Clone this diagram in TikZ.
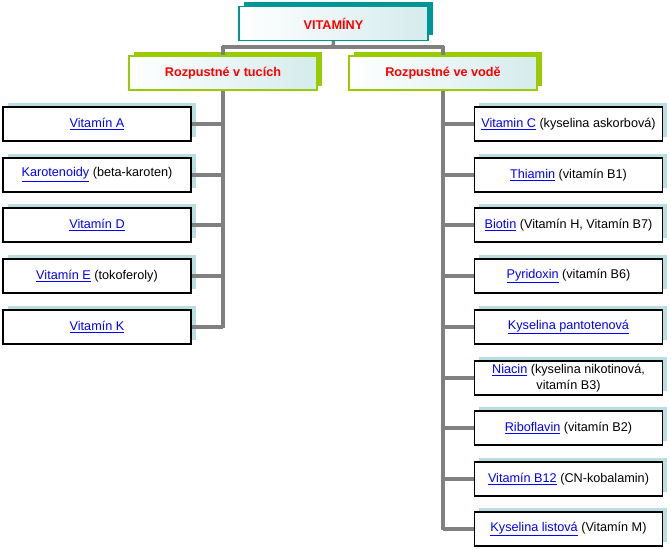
\documentclass[tikz,border=0pt]{standalone}
\usepackage{fontspec}
\setmainfont{Liberation Sans}
\definecolor{teal1}{RGB}{0,150,150}
\definecolor{grn}{RGB}{153,204,0}
\definecolor{lb}{RGB}{185,222,225}
\definecolor{lnk}{RGB}{0,0,255}
\definecolor{ln}{RGB}{128,128,128}
\newcommand{\lk}[1]{\textcolor{lnk}{\underline{#1}}}
\begin{document}
\begin{tikzpicture}[x=0.75pt,y=-0.75pt,
  hdr/.style={draw=#1,line width=0.8pt,minimum width=141pt,minimum height=25.5pt,inner sep=0pt,
    left color=white,right color=lb!60,font=\bfseries\fontsize{9.5}{11}\selectfont,text=red},
  leaf/.style={draw=black,line width=0.8pt,fill=white,minimum width=141pt,minimum height=25.5pt,inner sep=1pt,
    font=\fontsize{9.5}{11.5}\selectfont,align=center},
  conn/.style={draw=ln,line width=2.6pt}]
\useasboundingbox (0,0) rectangle (671,549);
% top
\fill[teal1] (244,2) rectangle (433,35);
\node[hdr=teal1,minimum width=141.75pt] (top) at (333.5,23.5) {VITAMÍNY};
\fill[grn] (134,52) rectangle (322,86);
\node[hdr=grn] (L) at (223,73) {Rozpustné v tucích};
\fill[grn] (354,52) rectangle (542,86);
\node[hdr=grn] (R) at (443,73) {Rozpustné ve vodě};
\coordinate (t1) at (333,47);
\draw[conn] (top.south) -- (t1);
\draw[conn] (222,47) -- (444,47);
\draw[conn] (223,46) -- (L.north);
\draw[conn] (443,46) -- (R.north);
% left leaves
\foreach \y/\n/\t in {124/la/{\lk{Vitamín A}},175/lb/{\lk{Karotenoidy} (beta-karoten)},225/lc/{\lk{Vitamín D}},276/ld/{\lk{Vitamín E} (tokoferoly)},327/le/{\lk{Vitamín K}}}{
  \fill[lb] (8,\y-21) rectangle (196,\y+13);
  \node[leaf] (\n) at (97,\y) {\t};
  \draw[conn] (\n.east) -- (223,\y);
}
\draw[conn] (L.south) -- (223,328);
% right leaves
\foreach \y/\n/\t in {124/ra/{\lk{Vitamin C} (kyselina askorbová)},175/rb/{\lk{Thiamin} (vitamín B1)},225/rc/{\lk{Biotin} (Vitamín H, Vitamín B7)},276/rd/{\lk{Pyridoxin} (vitamín B6)},327/re/{\lk{Kyselina pantotenová}},378/rf/{\lk{Niacin} (kyselina nikotinová,\\vitamín B3)},428/rg/{\lk{Riboflavin} (vitamín B2)},479/rh/{\lk{Vitamín B12} (CN-kobalamin)},529/ri/{\lk{Kyselina listová} (Vitamín M)}}{
  \fill[lb] (479,\y-21) rectangle (667,\y+13);
  \node[leaf] (\n) at (568.5,\y) {\t};
  \draw[conn] (\n.west) -- (443,\y);
}
\draw[conn] (R.south) -- (443,530);
\end{tikzpicture}
\end{document}
